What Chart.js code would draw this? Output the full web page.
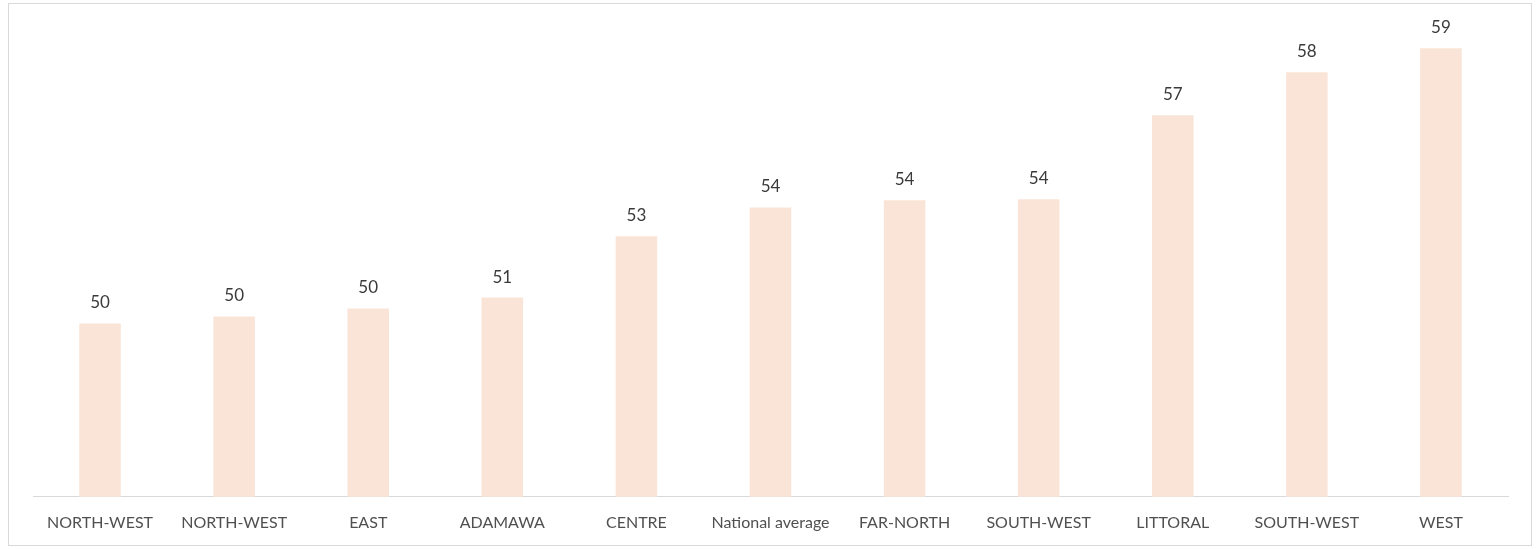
<!DOCTYPE html>
<html>
<head>
<meta charset="utf-8">
<script src="https://cdn.jsdelivr.net/npm/chart.js@4.4.1/dist/chart.umd.min.js"></script>
<style>
  body { margin: 0; background: #fff; }
  #box {
    position: absolute; left: 8px; top: 3px;
    width: 1522px; height: 541px;
    border: 1px solid #d9d9d9;
  }
</style>
</head>
<body>
<div id="box"><canvas id="myChart" width="1522" height="541"></canvas></div>
<script>
const ctx = document.getElementById('myChart');

// regions, sorted by value
const regions = ['NORTH-WEST', 'NORTH-WEST', 'EAST', 'ADAMAWA', 'CENTRE', 'National average',
                 'FAR-NORTH', 'SOUTH-WEST', 'LITTORAL', 'SOUTH-WEST', 'WEST'];
const values = [49.77, 50.0, 50.27, 50.63, 52.67, 53.63, 53.87, 53.9, 56.7, 58.13, 58.93];

// draws the rounded value above each bar
const valueLabels = {
    id: 'valueLabels',
    afterDatasetsDraw(chart) {
        const c = chart.ctx;
        const meta = chart.getDatasetMeta(0);
        c.save();
        c.font = '17px Lato';
        c.fillStyle = '#3a3a3a';
        c.textAlign = 'center';
        c.textBaseline = 'bottom';
        meta.data.forEach(function(bar, i) {
            c.fillText(Math.round(values[i]), bar.x, bar.y - 12);
        });
        c.restore();
    }
};

const visibleChart = new Chart(ctx, {
    type: 'bar',
    data: {
        labels: regions,
        datasets: [{
            data: values,
            backgroundColor: '#fae4d7',
            barPercentage: 0.31,
            categoryPercentage: 1.0
        }]
    },
    options: {
        responsive: false,
        animation: false,
        layout: { padding: { left: 24, right: 23, top: 12, bottom: -3 } },
        plugins: {
            legend: { display: false },
            tooltip: { enabled: false }
        },
        scales: {
            x: {
                grid: { display: false, drawTicks: false },
                border: { color: '#d9d9d9', width: 1 },
                ticks: {
                    color: '#505050',
                    font: { family: 'Lato', size: 16 },
                    padding: 16,
                    maxRotation: 0,
                    autoSkip: false
                }
            },
            y: {
                display: false,
                min: 44,
                max: 60
            }
        }
    },
    plugins: [valueLabels]
});
</script>
</body>
</html>
